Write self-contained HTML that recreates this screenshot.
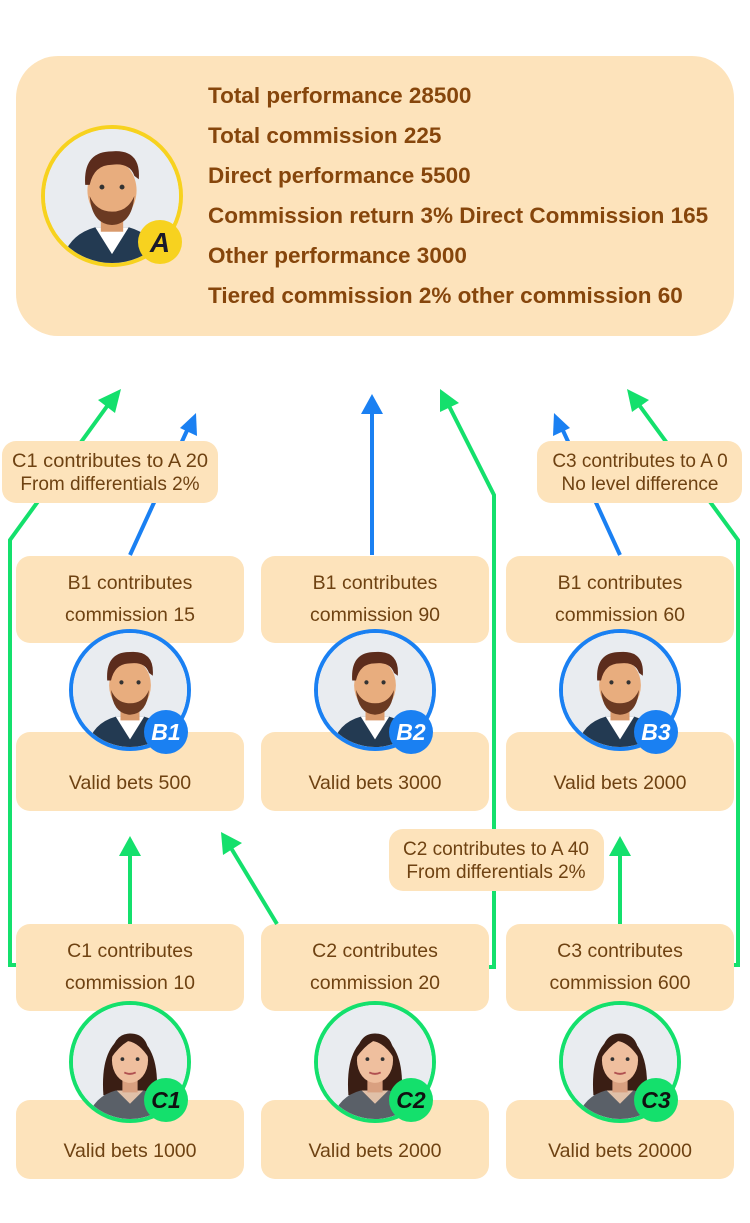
<!DOCTYPE html>
<html><head><meta charset="utf-8"><style>
html,body{margin:0;padding:0;background:#fff;}
body{width:750px;height:1223px;position:relative;overflow:hidden;font-family:"Liberation Sans",sans-serif;}
.b{position:absolute;background:#fde3bb;border-radius:14px;color:#6e4212;font-size:19.5px;text-align:center;box-sizing:border-box;}
.top{position:absolute;left:16px;top:56px;width:718px;height:280px;background:#fde3bb;border-radius:42px;}
.tl{position:absolute;left:208px;font-weight:bold;font-size:22.5px;color:#86460c;white-space:nowrap;}
svg{position:absolute;left:0;top:0;}
</style></head><body>
<div class="top"></div>
<div class="tl" style="top:83px">Total performance 28500</div>
<div class="tl" style="top:123px">Total commission 225</div>
<div class="tl" style="top:163px">Direct performance 5500</div>
<div class="tl" style="top:203px">Commission return 3% Direct Commission 165</div>
<div class="tl" style="top:243px">Other performance 3000</div>
<div class="tl" style="top:283px">Tiered commission 2% other commission 60</div>

<div class="b" style="left:16px;top:556px;width:228px;height:87px;line-height:32px;padding-top:11px">B1 contributes<br>commission 15</div>
<div class="b" style="left:261px;top:556px;width:228px;height:87px;line-height:32px;padding-top:11px">B1 contributes<br>commission 90</div>
<div class="b" style="left:506px;top:556px;width:228px;height:87px;line-height:32px;padding-top:11px">B1 contributes<br>commission 60</div>
<div class="b" style="left:16px;top:732px;width:228px;height:79px;line-height:102px">Valid bets 500</div>
<div class="b" style="left:261px;top:732px;width:228px;height:79px;line-height:102px">Valid bets 3000</div>
<div class="b" style="left:506px;top:732px;width:228px;height:79px;line-height:102px">Valid bets 2000</div>

<div class="b" style="left:16px;top:924px;width:228px;height:87px;line-height:32px;padding-top:11px">C1 contributes<br>commission 10</div>
<div class="b" style="left:261px;top:924px;width:228px;height:87px;line-height:32px;padding-top:11px">C2 contributes<br>commission 20</div>
<div class="b" style="left:506px;top:924px;width:228px;height:87px;line-height:32px;padding-top:11px">C3 contributes<br>commission 600</div>
<div class="b" style="left:16px;top:1100px;width:228px;height:79px;line-height:102px">Valid bets 1000</div>
<div class="b" style="left:261px;top:1100px;width:228px;height:79px;line-height:102px">Valid bets 2000</div>
<div class="b" style="left:506px;top:1100px;width:228px;height:79px;line-height:102px">Valid bets 20000</div>

<svg width="750" height="1223" viewBox="0 0 750 1223">
<defs>
<symbol id="man" viewBox="0 0 120 120">
<rect width="120" height="120" fill="#e9ecf0"/>
<path d="M15,120 Q20,95 45,88 L75,88 Q100,95 105,120 z" fill="#233a52"/>
<path d="M45,88 L60,112 L75,88 z" fill="#fff"/>
<rect x="50" y="68" width="20" height="24" fill="#d99a6c"/>
<ellipse cx="60" cy="55" rx="22" ry="27" fill="#e8ad7e"/>
<path d="M40,60 Q42,85 60,86 Q78,85 80,60 Q74,74 60,74 Q46,74 40,60z" fill="#6b3a22"/>
<path d="M36,50 Q34,20 60,20 Q86,18 84,45 L80,42 Q76,30 60,32 Q44,32 40,50z" fill="#5c2c1c"/>
<circle cx="51" cy="52" r="2.2" fill="#333"/><circle cx="69" cy="52" r="2.2" fill="#333"/>
</symbol>
<symbol id="woman" viewBox="0 0 120 120">
<rect width="120" height="120" fill="#e9ecf0"/>
<path d="M32,95 Q28,40 60,30 Q92,40 88,95z" fill="#3a1e14"/>
<path d="M15,120 Q22,96 45,90 L75,90 Q98,96 105,120 z" fill="#5a6068"/>
<path d="M46,90 L60,104 L74,90z" fill="#e0c0a8"/>
<rect x="52" y="70" width="16" height="22" fill="#d9a080"/>
<ellipse cx="60" cy="58" rx="19" ry="24" fill="#efbf9e"/>
<path d="M40,56 Q42,30 60,30 Q80,30 80,56 Q70,40 58,38 Q48,44 40,56z" fill="#3a1e14"/>
<circle cx="52" cy="57" r="2" fill="#333"/><circle cx="68" cy="57" r="2" fill="#333"/>
<path d="M54,71 Q60,74 66,71" stroke="#b05050" stroke-width="2" fill="none"/>
</symbol>
<clipPath id="cA"><circle cx="112" cy="196" r="67"/></clipPath>
<clipPath id="c1"><circle cx="130" cy="690" r="57"/></clipPath>
<clipPath id="c2"><circle cx="375" cy="690" r="57"/></clipPath>
<clipPath id="c3"><circle cx="620" cy="690" r="57"/></clipPath>
<clipPath id="d1"><circle cx="130" cy="1062" r="57"/></clipPath>
<clipPath id="d2"><circle cx="375" cy="1062" r="57"/></clipPath>
<clipPath id="d3"><circle cx="620" cy="1062" r="57"/></clipPath>
</defs>
<g stroke-width="4" fill="none" stroke-linejoin="miter">
<polyline points="16,965 10,965 10,540 113,398" stroke="#14e06c"/>
<polyline points="489,967 494,967 494,495 446,400" stroke="#14e06c"/>
<polyline points="734,965 738,965 738,540 634,398" stroke="#14e06c"/>
<line x1="130" y1="924" x2="130" y2="846" stroke="#14e06c"/>
<line x1="620" y1="924" x2="620" y2="846" stroke="#14e06c"/>
<line x1="277" y1="924" x2="228" y2="843" stroke="#14e06c"/>
<line x1="130" y1="555" x2="190" y2="424" stroke="#1a80f2"/>
<line x1="372" y1="555" x2="372" y2="405" stroke="#1a80f2"/>
<line x1="620" y1="555" x2="560" y2="424" stroke="#1a80f2"/>
</g>
<g fill="#14e06c">
<path d="M121,389 L98,400 L115,413z"/>
<path d="M440,389 L440,412 L459,403z"/>
<path d="M627,389 L632,412 L649,400z"/>
<path d="M130,836 L119,856 L141,856z"/>
<path d="M620,836 L609,856 L631,856z"/>
<path d="M221,832 L223,855 L242,843z"/>
</g>
<g fill="#1a80f2">
<path d="M196,413 L180,428 L197,436z"/>
<path d="M372,394 L361,414 L383,414z"/>
<path d="M554,413 L553,436 L570,428z"/>
</g>
<rect x="2" y="441" width="216" height="62" rx="14" fill="#fde3bb"/>
<rect x="537" y="441" width="205" height="62" rx="14" fill="#fde3bb"/>
<rect x="389" y="829" width="215" height="62" rx="14" fill="#fde3bb"/>
<g font-family="Liberation Sans, sans-serif" font-size="19" fill="#6e4212" text-anchor="middle">
<text x="110" y="467" textLength="196" lengthAdjust="spacingAndGlyphs">C1 contributes to A 20</text><text x="110" y="490">From differentials 2%</text>
<text x="640" y="467">C3 contributes to A 0</text><text x="640" y="490">No level difference</text>
<text x="496" y="855">C2 contributes to A 40</text><text x="496" y="878">From differentials 2%</text>
</g>
<circle cx="112" cy="196" r="69" fill="#e9ecf0" stroke="#f7d21f" stroke-width="4"/>
<g clip-path="url(#cA)"><use href="#man" x="45" y="129" width="134" height="134"/></g>
<circle cx="160" cy="242" r="22" fill="#f7d21f"/>
<text x="160" y="252" font-family="Liberation Sans, sans-serif" font-weight="bold" font-style="italic" font-size="28" text-anchor="middle" fill="#1a1a2a">A</text>

<circle cx="130" cy="690" r="59" fill="#fff" stroke="#1a80f2" stroke-width="4"/>
<g clip-path="url(#c1)"><use href="#man" x="73" y="633" width="114" height="114"/></g>
<circle cx="375" cy="690" r="59" fill="#fff" stroke="#1a80f2" stroke-width="4"/>
<g clip-path="url(#c2)"><use href="#man" x="318" y="633" width="114" height="114"/></g>
<circle cx="620" cy="690" r="59" fill="#fff" stroke="#1a80f2" stroke-width="4"/>
<g clip-path="url(#c3)"><use href="#man" x="563" y="633" width="114" height="114"/></g>
<circle cx="166" cy="732" r="22" fill="#1a80f2"/><circle cx="411" cy="732" r="22" fill="#1a80f2"/><circle cx="656" cy="732" r="22" fill="#1a80f2"/>
<circle cx="130" cy="1062" r="59" fill="#fff" stroke="#14e06c" stroke-width="4"/>
<g clip-path="url(#d1)"><use href="#woman" x="73" y="1005" width="114" height="114"/></g>
<circle cx="375" cy="1062" r="59" fill="#fff" stroke="#14e06c" stroke-width="4"/>
<g clip-path="url(#d2)"><use href="#woman" x="318" y="1005" width="114" height="114"/></g>
<circle cx="620" cy="1062" r="59" fill="#fff" stroke="#14e06c" stroke-width="4"/>
<g clip-path="url(#d3)"><use href="#woman" x="563" y="1005" width="114" height="114"/></g>
<circle cx="166" cy="1100" r="22" fill="#14e06c"/><circle cx="411" cy="1100" r="22" fill="#14e06c"/><circle cx="656" cy="1100" r="22" fill="#14e06c"/>
<g font-family="Liberation Sans, sans-serif" font-weight="bold" font-style="italic" font-size="23" text-anchor="middle">
<text x="166" y="740" fill="#fff">B1</text><text x="411" y="740" fill="#fff">B2</text><text x="656" y="740" fill="#fff">B3</text>
<text x="166" y="1108" fill="#111">C1</text><text x="411" y="1108" fill="#111">C2</text><text x="656" y="1108" fill="#111">C3</text>
</g>
</svg>
</body></html>
